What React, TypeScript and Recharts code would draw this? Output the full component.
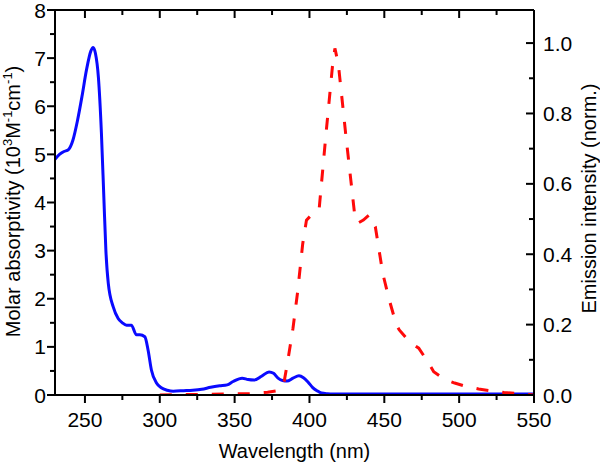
import { Label, Line, LineChart, XAxis, YAxis } from 'recharts';

// absorption spectrum (blue, left axis)
const absWavelength = [
	230, 233, 236, 239, 242, 245, 248, 251, 254, 255.5, 257, 259, 261, 262.7, 264,
	265.6, 268.9, 272.2, 275, 277.8, 281, 284.4, 286.7, 290, 292.2, 294.4, 297.8,
	301, 305, 309, 316, 322, 328, 334, 340, 345, 349, 355, 359, 363, 368, 373, 376,
	379, 382, 385, 389, 393, 396, 399, 402, 405, 408, 412, 416, 425, 450, 500, 550,
];
const absValue = [
	4.9, 5.0, 5.06, 5.1, 5.3, 5.7, 6.2, 6.75, 7.15, 7.22, 7.1, 6.6, 5.45, 4.05, 3.0,
	2.32, 1.83, 1.59, 1.5, 1.45, 1.45, 1.25, 1.25, 1.21, 0.93, 0.52, 0.25,
	0.15, 0.1, 0.08, 0.09, 0.1, 0.12, 0.16, 0.19, 0.21, 0.28, 0.35, 0.32, 0.31, 0.39, 0.48, 0.45,
	0.35, 0.3, 0.29, 0.35, 0.4, 0.36, 0.27, 0.16, 0.09, 0.04, 0.025, 0.02, 0.02, 0.02, 0.02, 0.02,
];

// emission spectrum (red dashed, right axis)
const emWavelength = [
	300, 330, 360, 372, 378, 382, 383.3, 386, 389, 392, 395.5, 398, 401, 404, 406.5,
	411, 415.5, 417, 419.3, 424.5, 430, 432.2, 436, 440, 444, 449, 453, 458, 460,
	467, 473, 479, 483, 490, 497, 505, 513, 523, 530, 541, 550,
];
const emValue = [
	0.0, 0.002, 0.004, 0.008, 0.012, 0.02, 0.043, 0.11, 0.19, 0.29, 0.43, 0.497, 0.51, 0.515, 0.53,
	0.74, 0.94, 0.985, 0.94, 0.73, 0.52, 0.488, 0.497, 0.512, 0.478, 0.345, 0.275, 0.2, 0.185,
	0.15, 0.133, 0.095, 0.066, 0.045, 0.034, 0.024, 0.017, 0.011, 0.007, 0.004, 0.0,
];

const wlTicks = [250, 275, 300, 325, 350, 375, 400, 425, 450, 475, 500, 525, 550];
const wlLabels = [250, 300, 350, 400, 450, 500, 550];
const absTicks = [0, 0.5, 1, 1.5, 2, 2.5, 3, 3.5, 4, 4.5, 5, 5.5, 6, 6.5, 7, 7.5, 8];
const absLabels = [0, 1, 2, 3, 4, 5, 6, 7, 8];
const emTicks = [0, 0.1, 0.2, 0.3, 0.4, 0.5, 0.6, 0.7, 0.8, 0.9, 1.0];
const emLabels = ['0.0', '0.2', '0.4', '0.6', '0.8', '1.0'];

const absData = absWavelength.map((x, i) => ({ x, y: absValue[i] }));
const emData = emWavelength.map((x, i) => ({ x, y: emValue[i] }));

const FONT = '"Liberation Sans", Arial, sans-serif';
const black = { stroke: '#000', strokeWidth: 2 };

// tick marks are filled rects, labels are plain text
const BottomTick = (props: any) => {
	const x = Number(props.x);
	const y = Number(props.y);
	const major = wlLabels.includes(props.payload.value);
	return (
		<g>
			<rect x={x - 1} y={y} width={2} height={major ? 8 : 5} fill="#000" />
			{major && (
				<text x={x} y={y + 31.5} textAnchor="middle" fontSize={21} fontFamily={FONT} fill="#000">
					{props.payload.value}
				</text>
			)}
		</g>
	);
};

const TopTick = (props: any) => {
	const x = Number(props.x);
	const y = Number(props.y);
	const major = wlLabels.includes(props.payload.value);
	return (
		<g>
			<rect x={x - 1} y={y} width={2} height={major ? 8 : 5} fill="#000" />
		</g>
	);
};

const LeftTick = (props: any) => {
	const x = Number(props.x);
	const y = Number(props.y);
	const major = absLabels.includes(props.payload.value);
	const len = major ? 8 : 5;
	return (
		<g>
			<rect x={x - len} y={y - 1} width={len} height={2} fill="#000" />
			{major && (
				<text x={x - 9} y={y + 7.5} textAnchor="end" fontSize={21} fontFamily={FONT} fill="#000">
					{props.payload.value}
				</text>
			)}
		</g>
	);
};

const RightTick = (props: any) => {
	const x = Number(props.x);
	const y = Number(props.y);
	const label = Number(props.payload.value).toFixed(1);
	const major = emLabels.includes(label);
	const len = major ? 8 : 5;
	return (
		<g>
			<rect x={x - len} y={y - 1} width={len} height={2} fill="#000" />
			{major && (
				<text x={x + 9} y={y + 7.5} textAnchor="start" fontSize={21} fontFamily={FONT} fill="#000">
					{label}
				</text>
			)}
		</g>
	);
};

const leftTitle = ({ viewBox }: any) => {
	const cx = viewBox.x + 20;
	const cy = viewBox.y + viewBox.height / 2 - 1;
	return (
		<text x={cx} y={cy} transform={`rotate(-90 ${cx} ${cy})`} textAnchor="middle" fontSize={20} fontFamily={FONT} fill="#000">
			Molar absorptivity (10
			<tspan dy={-8} fontSize={13}>3</tspan>
			<tspan dy={8}>M</tspan>
			<tspan dy={-8} fontSize={13}>-1</tspan>
			<tspan dy={8}>cm</tspan>
			<tspan dy={-8} fontSize={13}>-1</tspan>
			<tspan dy={8}>)</tspan>
		</text>
	);
};

const rightTitle = ({ viewBox }: any) => {
	const cx = viewBox.x + 62;
	const cy = viewBox.y + viewBox.height / 2 - 4;
	return (
		<text x={cx} y={cy} transform={`rotate(-90 ${cx} ${cy})`} textAnchor="middle" fontSize={20} fontFamily={FONT} fill="#000">
			Emission intensity (norm.)
		</text>
	);
};

const bottomTitle = ({ viewBox }: any) => (
	<text x={viewBox.x + viewBox.width / 2} y={viewBox.y + 63} textAnchor="middle" fontSize={20} fontFamily={FONT} fill="#000">
		Wavelength (nm)
	</text>
);

export default function App() {
	return (
		<div style={{ position: 'absolute', left: 0, top: 0, background: '#fff', fontFamily: FONT }}>
			<LineChart width={600} height={464} margin={{ top: 0, right: 0, bottom: 0, left: 0 }}>
				<XAxis xAxisId="wl" dataKey="x" type="number" domain={[230, 550]} allowDataOverflow ticks={wlTicks} interval={0} height={69}
					axisLine={black} tickLine={false} tickSize={0} tickMargin={0} tick={BottomTick}>
					<Label content={bottomTitle} />
				</XAxis>
				<XAxis xAxisId="top" orientation="top" dataKey="x" type="number" domain={[230, 550]} allowDataOverflow ticks={wlTicks} interval={0} height={10}
					axisLine={black} tickLine={false} tickSize={0} tickMargin={0} tick={TopTick} />
				<YAxis yAxisId="abs" type="number" domain={[0, 8]} allowDataOverflow ticks={absTicks} interval={0} width={55}
					axisLine={black} tickLine={false} tickSize={0} tickMargin={0} tick={LeftTick}>
					<Label content={leftTitle} />
				</YAxis>
				<YAxis yAxisId="em" orientation="right" type="number" domain={[0, 1.094]} allowDataOverflow ticks={emTicks} interval={0} width={66}
					axisLine={black} tickLine={false} tickSize={0} tickMargin={0} tick={RightTick}>
					<Label content={rightTitle} />
				</YAxis>
				<Line data={absData} xAxisId="wl" yAxisId="abs" dataKey="y" type="monotone" stroke="#0a0aff" strokeWidth={3}
					dot={false} activeDot={false} isAnimationActive={false} />
				<Line data={emData} xAxisId="wl" yAxisId="em" dataKey="y" type="linear" stroke="#ff0a0a" strokeWidth={3}
					strokeDasharray="12 14" dot={false} activeDot={false} isAnimationActive={false} />
			</LineChart>
		</div>
	);
}
